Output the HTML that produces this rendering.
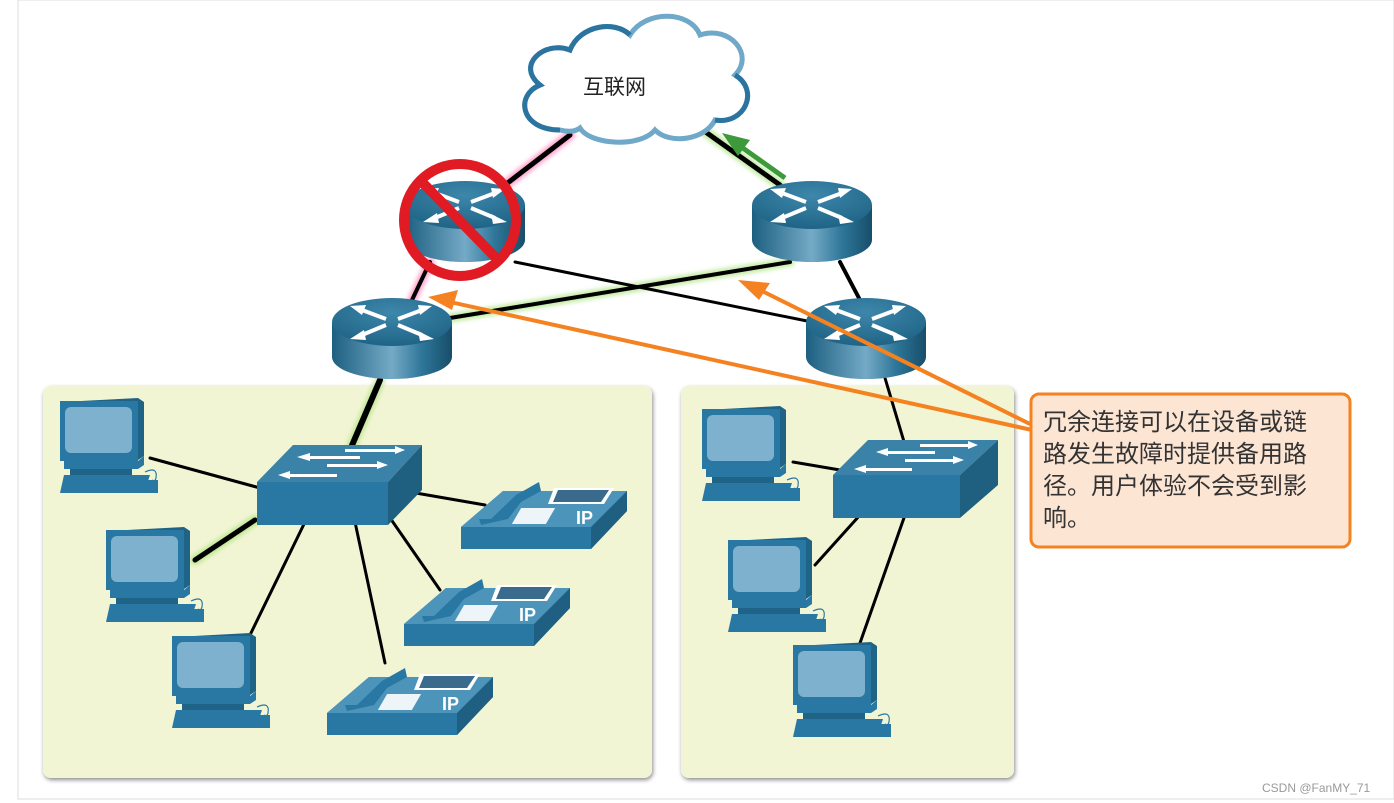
<!DOCTYPE html>
<html><head><meta charset="utf-8"><style>
html,body{margin:0;padding:0;background:#fff;}
svg{display:block}
</style></head><body>
<svg width="1394" height="803" viewBox="0 0 1394 803" xmlns="http://www.w3.org/2000/svg">
<defs>
<linearGradient id="rb" x1="0" x2="1" y1="0" y2="0">
<stop offset="0" stop-color="#1d5f80"/><stop offset="0.5" stop-color="#74aac6"/><stop offset="0.75" stop-color="#2e7699"/><stop offset="1" stop-color="#174e6a"/></linearGradient>
<radialGradient id="rt" cx="0.5" cy="0.3" r="0.7"><stop offset="0" stop-color="#3d87ab"/><stop offset="1" stop-color="#1f6486"/></radialGradient>
<filter id="gr" x="-20%" y="-20%" width="140%" height="140%"><feGaussianBlur stdDeviation="2"/></filter>
<filter id="sh" x="-5%" y="-5%" width="110%" height="110%"><feDropShadow dx="1" dy="2" stdDeviation="2" flood-color="#000" flood-opacity="0.45"/></filter>
<g id="router">
<path d="M0 25 V60 A60 22 0 0 0 120 60 V25 Z" fill="url(#rb)"/>
<ellipse cx="60" cy="25" rx="60" ry="24" fill="url(#rt)"/>
<g stroke="#fff" stroke-width="4" fill="#fff">
<line x1="54" y1="22" x2="30" y2="13"/><path d="M18 9 L34 8 L30 18 Z" stroke-width="0"/>
<line x1="66" y1="22" x2="90" y2="13"/><path d="M100 9 L86 8 L88 18 Z" stroke-width="0"/>
<line x1="54" y1="28" x2="30" y2="38"/><path d="M18 42 L32 33 L34 43 Z" stroke-width="0"/>
<line x1="66" y1="28" x2="90" y2="38"/><path d="M102 42 L86 34 L88 44 Z" stroke-width="0"/>
</g>
</g>
<g id="pc">
<path d="M2 4 L78 0 L84 4 L84 58 L78 62 L2 62 Z" fill="#1f6486"/>
<rect x="0" y="3" width="78" height="60" fill="#2878a3"/>
<rect x="5" y="9" width="67" height="46" rx="6" fill="#7eb1ce"/>
<path d="M4 63 L78 63 L84 58 L84 67 L78 71 L4 71 Z" fill="#2878a3"/>
<rect x="10" y="71" width="62" height="6" fill="#1f6486"/>
<path d="M4 77 L90 77 L84 95 L0 95 Z" fill="#2878a3"/>
<rect x="82" y="82" width="16" height="13" fill="#2878a3"/>
<path d="M85 74 Q98 68 96 80 Q95 84 92 82" fill="none" stroke="#2878a3" stroke-width="1.2"/>
</g>
<g id="phone">
<path d="M0 50 L42 14 L166 14 L166 34 L130 72 L0 72 Z" fill="#2878a3"/>
<path d="M130 50 L166 14 L166 34 L130 72 Z" fill="#1f5f82"/>
<path d="M0 50 L42 14 L166 14 L130 50 Z" fill="#4d94ba"/>
<path d="M18 42 L30 42 L55 18 L78 5 L80 14 L60 25 L47 42 L20 48 Z" fill="#2878a3"/>
<path d="M93 11 L153 11 L143 27 L87 27 Z" fill="#fff"/>
<path d="M97 13 L148 13 L140 25 L92 25 Z" fill="#3a6a8c"/>
<g fill="#fff"><rect x="78" y="31" width="34" height="16" transform="skewX(-30)" opacity="0.9"/></g>
<text x="115" y="47" font-family="Liberation Sans,sans-serif" font-weight="bold" font-size="18" fill="#fff">IP</text>
</g>
</defs>

<rect x="18" y="0" width="1376" height="799" fill="#fff" stroke="#ddd"/>

<rect x="43" y="386" width="609" height="392" rx="8" fill="#f2f5d4" filter="url(#sh)"/>
<rect x="681" y="386" width="333" height="392" rx="8" fill="#f2f5d4" filter="url(#sh)"/>

<g stroke-linecap="round" filter="url(#gr)" fill="none">
<line x1="570" y1="135" x2="505" y2="185" stroke="#f49" stroke-width="10" opacity="0.5"/>
<line x1="430" y1="262" x2="412" y2="300" stroke="#f49" stroke-width="9" opacity="0.5"/>
<line x1="700" y1="128" x2="780" y2="185" stroke="#9d6" stroke-width="10" opacity="0.6"/>
<line x1="450" y1="318" x2="790" y2="262" stroke="#9d6" stroke-width="9" opacity="0.6"/>
<line x1="380" y1="380" x2="350" y2="450" stroke="#9d6" stroke-width="10" opacity="0.6"/>
<line x1="255" y1="520" x2="195" y2="560" stroke="#9d6" stroke-width="10" opacity="0.6"/>
</g>
<g stroke="#000" stroke-linecap="round" fill="none">
<line x1="570" y1="135" x2="505" y2="185" stroke-width="5"/>
<line x1="700" y1="128" x2="780" y2="185" stroke-width="5"/>
<line x1="430" y1="262" x2="412" y2="300" stroke-width="4"/>
<line x1="515" y1="262" x2="812" y2="322" stroke-width="3"/>
<line x1="450" y1="318" x2="790" y2="262" stroke-width="4"/>
<line x1="840" y1="262" x2="860" y2="300" stroke-width="4"/>
<line x1="380" y1="380" x2="350" y2="450" stroke-width="6"/>
<line x1="885" y1="378" x2="905" y2="445" stroke-width="3"/>
<line x1="150" y1="458" x2="260" y2="488" stroke-width="3"/>
<line x1="255" y1="520" x2="195" y2="560" stroke-width="5"/>
<line x1="305" y1="522" x2="250" y2="635" stroke-width="3"/>
<line x1="355" y1="522" x2="385" y2="663" stroke-width="3"/>
<line x1="388" y1="515" x2="440" y2="590" stroke-width="3"/>
<line x1="410" y1="492" x2="485" y2="505" stroke-width="3"/>
<line x1="793" y1="462" x2="840" y2="470" stroke-width="3"/>
<line x1="860" y1="515" x2="815" y2="565" stroke-width="3"/>
<line x1="905" y1="515" x2="860" y2="643" stroke-width="3"/>
</g>

<path d="M560 130 C520 130 515 95 540 85 C515 65 545 40 570 50 C580 25 615 20 630 35 C645 10 690 10 700 35 C730 25 755 55 735 75 C760 90 745 125 715 120 C705 140 670 145 655 130 C640 148 590 145 580 128 C575 132 568 132 560 130 Z" fill="#fff" stroke="#6fa8c8" stroke-width="5"/>
<path d="M560 130 C520 130 515 95 540 85 C515 65 545 40 570 50 C580 25 615 20 630 35" fill="none" stroke="#2c74a0" stroke-width="5"/>
<path d="M735 75 C760 90 745 125 715 120" fill="none" stroke="#2c74a0" stroke-width="5"/>
<text x="583" y="94" font-family="Liberation Sans,'Noto Sans CJK SC',sans-serif" font-size="21" fill="#222">互联网</text>

<use href="#router" x="405" y="180"/>
<use href="#router" x="752" y="180"/>
<use href="#router" x="332" y="297"/>
<use href="#router" x="806" y="297"/>

<circle cx="460" cy="220" r="56" fill="none" stroke="#e01b24" stroke-width="10"/>
<line x1="420" y1="180" x2="500" y2="262" stroke="#e01b24" stroke-width="10"/>

<line x1="785" y1="178" x2="740" y2="146" stroke="#3d9a3a" stroke-width="5"/>
<path d="M722 133 L750 140 L738 156 Z" fill="#3d9a3a"/>

<g>
<path d="M257 482 L293 445 L422 445 L388 482 Z" fill="#3b82a8"/>
<path d="M388 482 L422 445 L422 490 L388 525 Z" fill="#1f6080"/>
<rect x="257" y="482" width="131" height="43" fill="#2878a3"/>
<g fill="#fff"><path d="M345 449 L395 449 L395 446 L405 450 L395 454 L395 452 L345 452Z"/><path d="M360 456 L310 456 L310 453 L297 457 L310 461 L310 459 L360 459Z"/><path d="M327 464 L377 464 L377 461 L388 465 L377 469 L377 467 L327 467Z"/><path d="M337 474 L290 474 L290 471 L278 475 L290 479 L290 477 L337 477Z"/></g>
</g>
<g>
<path d="M833 475 L868 440 L998 440 L960 475 Z" fill="#3b82a8"/>
<path d="M960 475 L998 440 L998 485 L960 518 Z" fill="#1f6080"/>
<rect x="833" y="475" width="127" height="43" fill="#2878a3"/>
<g fill="#fff"><path d="M920 444 L968 444 L968 441 L978 445 L968 449 L968 447 L920 447Z"/><path d="M935 451 L888 451 L888 448 L876 452 L888 456 L888 454 L935 454Z"/><path d="M905 459 L953 459 L953 456 L964 460 L953 464 L953 462 L905 462Z"/><path d="M912 468 L866 468 L866 465 L854 469 L866 473 L866 471 L912 471Z"/></g>
</g>

<use href="#pc" x="60" y="398"/>
<use href="#pc" x="106" y="527"/>
<use href="#pc" x="172" y="633"/>
<use href="#pc" x="702" y="406"/>
<use href="#pc" x="728" y="537"/>
<use href="#pc" x="793" y="642"/>

<use href="#phone" x="461" y="477"/>
<use href="#phone" x="404" y="574"/>
<use href="#phone" x="327" y="663"/>

<g stroke="#f58220" stroke-width="4" fill="none">
<line x1="1032" y1="430" x2="450" y2="302"/>
<line x1="1032" y1="425" x2="760" y2="290"/>
</g>
<path d="M428 297 L458 290 L452 310 Z" fill="#f58220"/>
<path d="M738 280 L770 283 L759 300 Z" fill="#f58220"/>

<rect x="1031" y="394" width="319" height="153" rx="8" fill="#fde5d4" stroke="#f58220" stroke-width="3"/>
<g font-family="Liberation Sans,'Noto Sans CJK SC',sans-serif" font-size="24" fill="#333">
<text x="1043" y="430">冗余连接可以在设备或链</text>
<text x="1043" y="462">路发生故障时提供备用路</text>
<text x="1043" y="494">径。用户体验不会受到影</text>
<text x="1043" y="526">响。</text>
</g>

<text x="1262" y="792" font-family="Liberation Sans,sans-serif" font-size="12" fill="#999">CSDN @FanMY_71</text>
</svg>
</body></html>
